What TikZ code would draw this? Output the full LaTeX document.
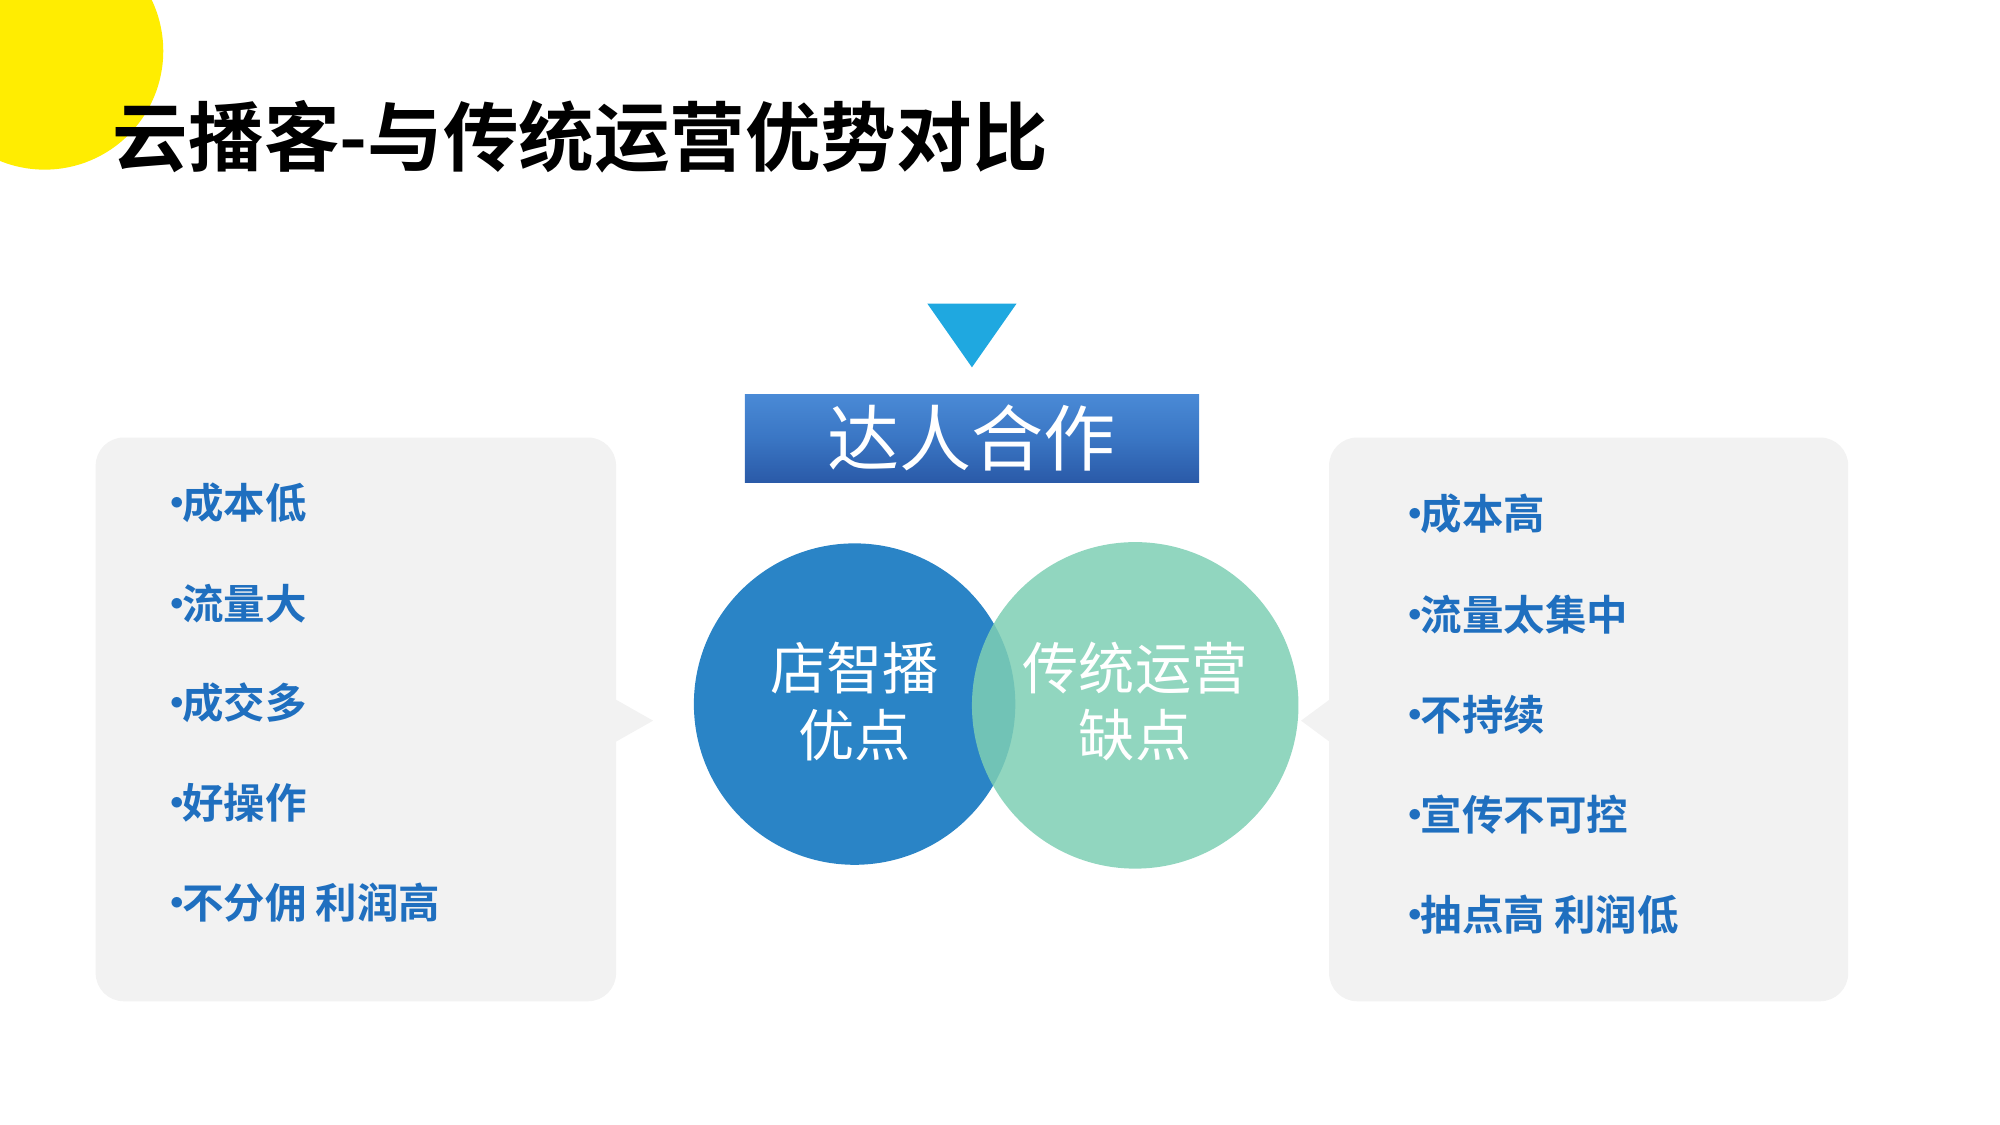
\documentclass[tikz,border=0pt]{standalone}
\usepackage{fontspec}
\setmainfont{Noto Sans CJK SC}[BoldFont={Noto Sans CJK SC Bold}]
\newcommand{\bul}{\makebox[0.5em][l]{\kern-0.12em•}}
\begin{document}
\begin{tikzpicture}[x=0.012755cm,y=-0.012755cm,
 item/.style={anchor=west,font=\bfseries\fontsize{11.8}{13}\selectfont,text=itemblue,inner sep=0}]
\definecolor{itemblue}{HTML}{1F6FBF}
\definecolor{panelgray}{HTML}{F2F2F2}
\definecolor{tri}{HTML}{1FA8E0}
\definecolor{cblue}{HTML}{2A84C6}
\definecolor{cgreen}{HTML}{7ECFB4}
\definecolor{btop}{HTML}{4A8AD6}
\definecolor{bmid}{HTML}{3A76C4}
\definecolor{bbot}{HTML}{2A5AA8}
\useasboundingbox (0,0) rectangle (1568,882);
\begin{scope}
\clip (0,0) rectangle (1568,882);
\fill[yellow!95!orange] (35,40) circle (93);
\end{scope}
\node[anchor=west,font=\bfseries\fontsize{21.5}{24}\selectfont,inner sep=0] (title) at (88,107) {云播客-与传统运营优势对比};
\fill[tri] (727,238) -- (797,238) -- (762,288) -- cycle;
\shade[top color=btop, bottom color=bbot, middle color=bmid] (584,309) rectangle (940,378);
\node[text=white,font=\fontsize{20.5}{22}\selectfont] (dr) at (762,343) {达人合作};
\fill[panelgray,rounded corners=8pt] (75,343) rectangle (483,785);
\fill[panelgray] (482,548) -- (512,565) -- (482,582) -- cycle;
\fill[panelgray,rounded corners=8pt] (1042,343) rectangle (1449,785);
\fill[panelgray] (1043,548) -- (1020,565) -- (1043,582) -- cycle;
\fill[cblue] (670,552) circle (126);
\fill[cgreen,opacity=0.85] (890,553) circle (128);
\node[text=white,align=center,font=\fontsize{16}{19}\selectfont] (l) at (670,550) {店智播\\优点};
\node[text=white,align=center,font=\fontsize{16}{19}\selectfont] (r) at (890,550) {传统运营\\缺点};
\node[item] (a1) at (126,394) {\bul 成本低};
\node[item] (a2) at (126,473) {\bul 流量大};
\node[item] (a3) at (126,551) {\bul 成交多};
\node[item] (a4) at (126,629) {\bul 好操作};
\node[item] (a5) at (126,708) {\bul 不分佣 利润高};
\node[item] (b1) at (1097,403) {\bul 成本高};
\node[item] (b2) at (1097,482) {\bul 流量太集中};
\node[item] (b3) at (1097,560) {\bul 不持续};
\node[item] (b4) at (1097,639) {\bul 宣传不可控};
\node[item] (b5) at (1097,717) {\bul 抽点高 利润低};
\end{tikzpicture}
\end{document}
